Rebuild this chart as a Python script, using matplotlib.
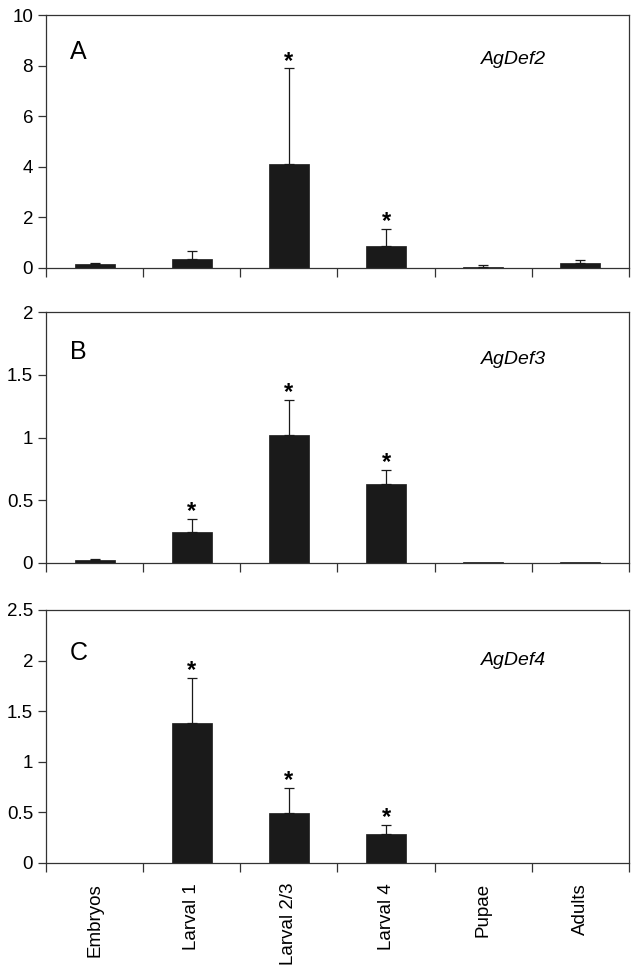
import numpy as np
import matplotlib.pyplot as plt
from matplotlib.ticker import FuncFormatter

plt.rcParams['font.family'] = ['Liberation Sans', 'DejaVu Sans']

# Data
stages = ['Embryos', 'Larval 1', 'Larval 2/3', 'Larval 4', 'Pupae', 'Adults']

def2_mean = [0.15, 0.35, 4.12, 0.88, 0.05, 0.20]
def2_err = [0.04, 0.33, 3.78, 0.67, 0.05, 0.13]
def2_sig = [False, False, True, True, False, False]

def3_mean = [0.02, 0.25, 1.02, 0.63, 0.008, 0.008]
def3_err = [0.01, 0.10, 0.28, 0.11, 0.0, 0.0]
def3_sig = [False, True, True, True, False, False]

def4_mean = [0.0, 1.38, 0.49, 0.28, 0.0, 0.0]
def4_err = [0.0, 0.45, 0.25, 0.09, 0.0, 0.0]
def4_sig = [False, True, True, True, False, False]

panels = [
    ('A', 'AgDef2', def2_mean, def2_err, def2_sig, 10, 2),
    ('B', 'AgDef3', def3_mean, def3_err, def3_sig, 2, 0.5),
    ('C', 'AgDef4', def4_mean, def4_err, def4_sig, 2.5, 0.5),
]

fig = plt.figure(figsize=(6.42, 9.67), dpi=100)
boxes = [[0.0717, 0.7229, 0.908, 0.2611],
         [0.0717, 0.4178, 0.908, 0.2593],
         [0.0717, 0.1079, 0.908, 0.2613]]
label_y = [0.855, 0.84, 0.83]
x = np.arange(len(stages)) + 0.5
ink = '#1a1a1a'

for i, (letter, gene, mean, err, sig, ymax, step) in enumerate(panels):
    ax = fig.add_axes(boxes[i])
    mean = np.array(mean)
    err = np.array(err)
    lw = [0.5 if m > 0 else 0 for m in mean]
    ax.bar(x, mean, width=0.41, color=ink, edgecolor=ink, linewidth=lw, zorder=2)
    has = err > 0
    ax.errorbar(x[has], mean[has], yerr=[np.zeros(has.sum()), err[has]], fmt='none',
                ecolor=ink, elinewidth=0.9, capsize=3.6, capthick=0.9, zorder=3)
    # significance stars
    for xi, m, e, s in zip(x, mean, err, sig):
        if s:
            ax.annotate('*', (xi, m + e), xytext=(0, -3), textcoords='offset points',
                        ha='center', va='bottom', fontsize=17, fontweight='bold')
    ax.set_xlim(0, len(stages))
    ax.set_ylim(0, ymax)
    ax.set_yticks(np.arange(0, ymax + step / 2, step))
    ax.yaxis.set_major_formatter(FuncFormatter(lambda v, p: '%g' % v))
    ax.set_xticks(np.arange(0, len(stages) + 1))
    ax.set_xticklabels([])
    ax.tick_params(axis='x', direction='out', length=6.5, width=0.9, color='#333333')
    ax.tick_params(axis='y', direction='out', length=5.8, width=0.9, color='#333333',
                   labelsize=13.5, pad=3.5)
    for sp in ax.spines.values():
        sp.set_linewidth(0.9)
        sp.set_color('#333333')
    ax.text(0.041, label_y[i], letter, transform=ax.transAxes, fontsize=18, va='center')
    ax.text(0.746, label_y[i] - 0.03, gene, transform=ax.transAxes, fontsize=14,
            style='italic', va='center')
    if i == 2:
        for xi, name in zip(x, stages):
            ax.text(xi, -0.08, name, transform=ax.get_xaxis_transform(), rotation=90,
                    ha='center', va='top', fontsize=13.5)

fig.savefig('out.png', dpi=100)
